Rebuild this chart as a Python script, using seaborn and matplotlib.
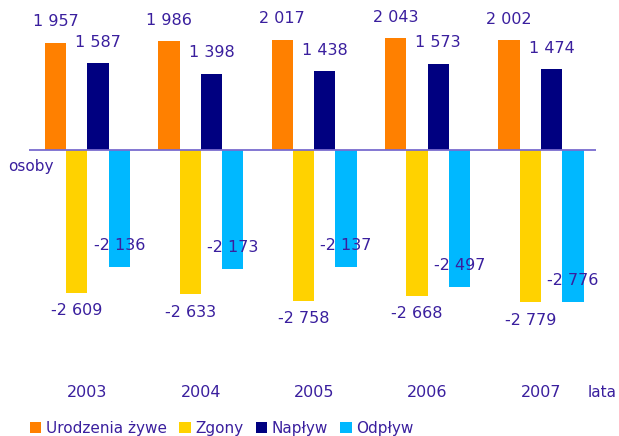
import matplotlib
matplotlib.use("Agg")
import matplotlib.pyplot as plt
import seaborn as sns
import pandas as pd
from matplotlib.patches import Patch

years = ["2003", "2004", "2005", "2006", "2007"]
series = ["Urodzenia żywe", "Zgony", "Napływ", "Odpływ"]
urodzenia = [1957, 1986, 2017, 2043, 2002]
zgony = [-2609, -2633, -2758, -2668, -2779]
naplyw = [1587, 1398, 1438, 1573, 1474]
odplyw = [-2136, -2173, -2137, -2497, -2776]
colors = ["#FF8000", "#FFD200", "#000080", "#00B8FF"]
txt = "#3A1F9E"

values = [urodzenia, zgony, naplyw, odplyw]
rows = []
for s, vals in zip(series, values):
    for y, v in zip(years, vals):
        rows.append({"rok": y, "seria": s, "wartosc": v})
df = pd.DataFrame(rows)

sns.set_theme(style="white")
plt.rcParams["font.family"] = ["DejaVu Sans"]

W, H = 619, 436
fig = plt.figure(figsize=(W / 100, H / 100), dpi=100)
ax_l, ax_r, ax_t, ax_b = 29, 596, 0, 360
ax = fig.add_axes([ax_l / W, 1 - ax_b / H, (ax_r - ax_l) / W, (ax_b - ax_t) / H])

sns.barplot(data=df, x="rok", y="wartosc", hue="seria", order=years,
            hue_order=series, palette=colors, width=0.75, ax=ax,
            linewidth=0, edgecolor="none", legend=False, saturation=1)

scale = 0.0547  # px per unit
ax.set_ylim(-(ax_b - 150) / scale, 150 / scale)
ax.set_xlim(-0.515, 4.485)
ax.axhline(0, color="#7A6CCF", lw=1.3, zorder=3)
for sp in ax.spines.values():
    sp.set_visible(False)
ax.set_yticks([])
ax.set_xlabel("")
ax.set_ylabel("")
ax.tick_params(axis="x", length=0, pad=18, labelsize=11.5, labelcolor=txt)

def fmt(v):
    s = f"{abs(v):,}".replace(",", " ")
    return ("-" if v < 0 else "") + s

px = 0.72  # points per pixel
for i, cont in enumerate(ax.containers):
    vals = values[i]
    for bar, v in zip(cont, vals):
        xc = bar.get_x() + bar.get_width() / 2
        if v >= 0:
            off = 21
        elif i == 1:
            off = -18
        else:
            off = 21
        ax.annotate(fmt(v), (xc, v), xytext=(0, off * px), textcoords="offset points",
                    ha="center", va="center", fontsize=11.5, color=txt, zorder=5)

fig.text(8 / W, 1 - 166 / H, "osoby", fontsize=11, color=txt, ha="left", va="center")
fig.text(588 / W, 1 - 392 / H, "lata", fontsize=11, color=txt, ha="left", va="center")

handles = [Patch(facecolor=c, edgecolor="none", label=s) for c, s in zip(colors, series)]
leg = fig.legend(handles=handles, loc="center left", bbox_to_anchor=(30 / W, 1 - 428 / H),
                 ncol=4, frameon=False, fontsize=11, handlelength=0.75, handleheight=0.75,
                 handletextpad=0.3, columnspacing=0.8, borderaxespad=0, borderpad=0)
for t in leg.get_texts():
    t.set_color(txt)

fig.savefig("out.png", dpi=100)
